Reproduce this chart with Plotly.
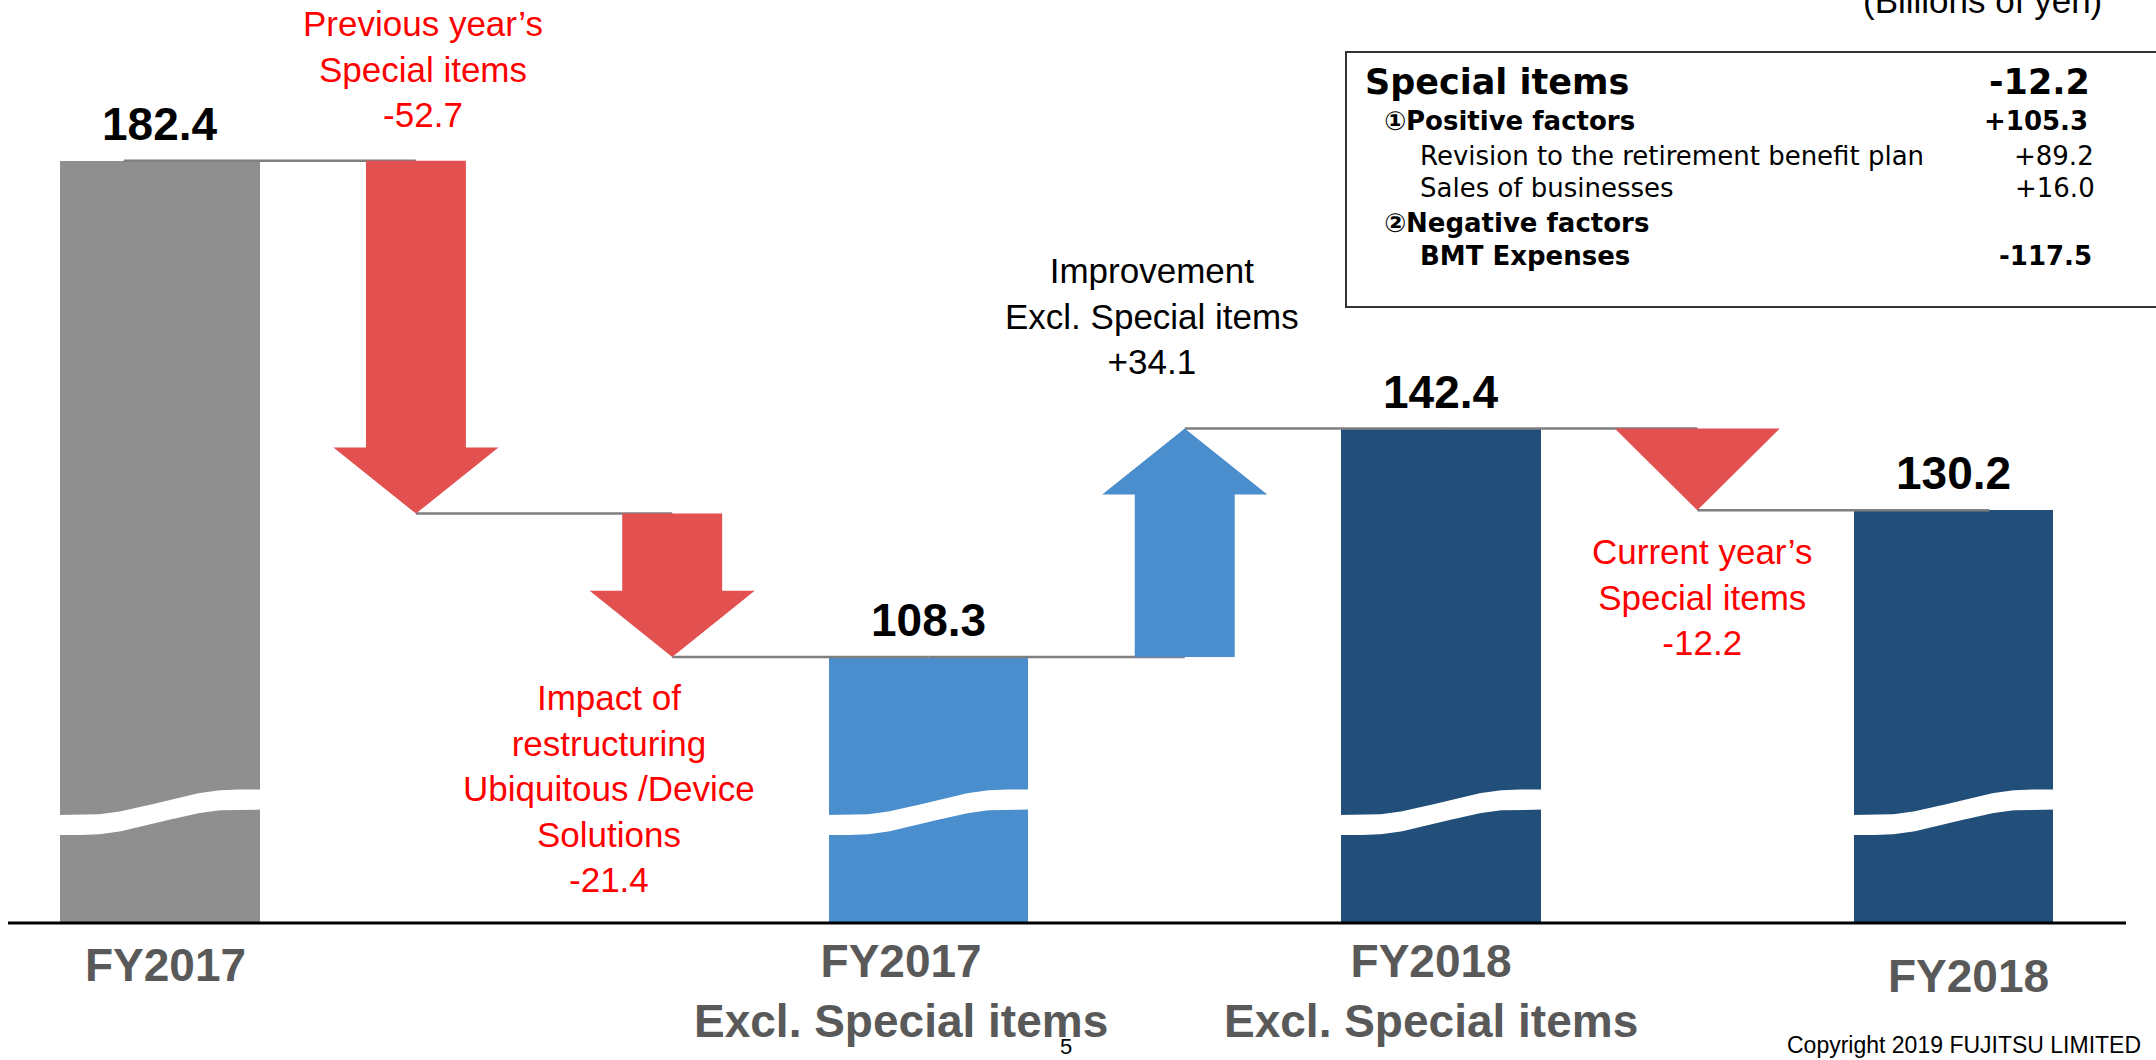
import numpy as np
import plotly.graph_objects as go

# ---------------- data ----------------
step_names = [
    "FY2017",
    "Previous year's Special items",
    "Impact of restructuring Ubiquitous /Device Solutions",
    "FY2017 Excl. Special items",
    "Improvement Excl. Special items",
    "FY2018 Excl. Special items",
    "Current year's Special items",
    "FY2018",
]
step_kinds = ["total", "delta", "delta", "total", "delta", "total", "delta", "total"]
step_values = [182.4, -52.7, -21.4, 108.3, 34.1, 142.4, -12.2, 130.2]

category_labels = [
    "FY2017",
    "FY2017<br>Excl. Special items",
    "FY2018<br>Excl. Special items",
    "FY2018",
]
delta_labels = [
    "Previous year’s<br>Special items<br>-52.7",
    "Impact of<br>restructuring<br>Ubiquitous /Device<br>Solutions<br>-21.4",
    "Improvement<br>Excl. Special items<br>+34.1",
    "Current year’s<br>Special items<br>-12.2",
]
special_item_names = [
    "Special items",
    "①Positive factors",
    "Revision to the retirement benefit plan",
    "Sales of businesses",
    "②Negative factors",
    "BMT Expenses",
]
special_item_values = ["-12.2", "+105.3", "+89.2", "+16.0", "", "-117.5"]

unit_label = "(Billions of yen)"
copyright_text = "Copyright 2019 FUJITSU LIMITED"
page_number = "5"

# ---------------- layout / style constants ----------------
W, H = 2156, 1060
PLOT_BOTTOM = 923
Y_RANGE = [68.56, 206.4]
X_RANGE = [-0.623, 7.790]
BAR_W = 0.78
SHAFT_W = 0.39
HEAD_W = 0.644
HEAD_H = 9.86
WAVE_LEFT, WAVE_RIGHT, WAVE_TH = 83.2, 87.0, 3.0

ARIAL = "Liberation Sans, Arial, sans-serif"
VERD = "DejaVu Sans, Verdana, sans-serif"
RED_TXT = "#FF0000"
AX_GRAY = "#595959"
bar_colors = ["#8F8F8F", "#4A8ECD", "#214F79", "#214F79"]
UP_COLOR = "#4A8ECD"
DOWN_COLOR = "#E35050"
CONNECTOR = "#7F7F7F"


def pxx(x):
    return x / W


def pyy(y):
    return (PLOT_BOTTOM - y) / PLOT_BOTTOM


# running levels
levels, starts = [], []
lvl = 0.0
for k, v in zip(step_kinds, step_values):
    starts.append(0.0 if k == "total" else lvl)
    lvl = v if k == "total" else lvl + v
    levels.append(round(lvl, 1))

fig = go.Figure()

# total bars
tot_idx = [i for i, k in enumerate(step_kinds) if k == "total"]
fig.add_trace(go.Bar(
    x=tot_idx, y=[step_values[i] for i in tot_idx], width=BAR_W,
    marker=dict(color=bar_colors, line=dict(width=0)),
    hoverinfo="skip", showlegend=False,
))

# axis-break waves on bars
t = np.linspace(0, 1, 80)
tt = np.clip((t - 0.12) / 0.76, 0, 1)
s = (1 - np.cos(np.pi * tt)) / 2
for i in tot_idx:
    xs = i - BAR_W / 2 - 0.01 + t * (BAR_W + 0.02)
    yc = WAVE_LEFT + (WAVE_RIGHT - WAVE_LEFT) * s
    px_ = np.concatenate([xs, xs[::-1]])
    py_ = np.concatenate([yc + WAVE_TH / 2, (yc - WAVE_TH / 2)[::-1]])
    fig.add_trace(go.Scatter(x=px_, y=py_, mode="lines", fill="toself",
                             fillcolor="white", line=dict(width=0),
                             hoverinfo="skip", showlegend=False))

# connectors
cx, cy = [], []
n = len(step_values)
for i in range(n - 1):
    x0 = i - (0.14 if i == 0 else 0)
    x1 = i + 1 + (0.14 if i + 1 == n - 1 else 0)
    cx += [x0, x1, None]
    cy += [levels[i], levels[i], None]
fig.add_trace(go.Scatter(x=cx, y=cy, mode="lines",
                         line=dict(color=CONNECTOR, width=2.5),
                         hoverinfo="skip", showlegend=False))

# arrows
for i, k in enumerate(step_kinds):
    if k != "delta":
        continue
    s0, e0 = starts[i], levels[i]
    d = 1 if e0 > s0 else -1
    span = abs(e0 - s0)
    hh = span if span < 1.5 * HEAD_H else HEAD_H
    base = e0 - d * hh
    if hh >= span:
        xs = [i - HEAD_W / 2, i + HEAD_W / 2, i, i - HEAD_W / 2]
        ys = [s0, s0, e0, s0]
    else:
        xs = [i - SHAFT_W / 2, i + SHAFT_W / 2, i + SHAFT_W / 2, i + HEAD_W / 2,
              i, i - HEAD_W / 2, i - SHAFT_W / 2, i - SHAFT_W / 2]
        ys = [s0, s0, base, base, e0, base, base, s0]
    fig.add_trace(go.Scatter(x=xs, y=ys, mode="lines", fill="toself",
                             fillcolor=UP_COLOR if d > 0 else DOWN_COLOR,
                             line=dict(width=0), hoverinfo="skip", showlegend=False))

ann = []
# value labels above totals
for i in tot_idx:
    ann.append(dict(x=i, y=step_values[i], xref="x", yref="y", yshift=37,
                    text=f"{step_values[i]:.1f}", showarrow=False, yanchor="middle",
                    font=dict(family=ARIAL, size=46, color="black", weight="bold")))

# delta labels
delta_pos = [(423, 69), (609, 788), (1152, 316), (1702, 597)]
delta_col = [RED_TXT, RED_TXT, "black", RED_TXT]
for txt, (xp, yp), col in zip(delta_labels, delta_pos, delta_col):
    ann.append(dict(x=pxx(xp), y=pyy(yp), xref="paper", yref="paper", text=txt,
                    showarrow=False, xanchor="center", yanchor="middle", align="center",
                    font=dict(family=ARIAL, size=35, color=col)))

# category labels
cat_pos = [(165, 965), (901, 991), (1431, 991), (1968, 976)]
for txt, (xp, yp) in zip(category_labels, cat_pos):
    ann.append(dict(x=pxx(xp), y=pyy(yp), xref="paper", yref="paper", text=txt,
                    showarrow=False, xanchor="center", yanchor="middle", align="center",
                    font=dict(family=ARIAL, size=46, color=AX_GRAY, weight="bold")))

# special items box
row_base = [94, 130, 165, 197, 232, 265]
row_x = [1363, 1382, 1418, 1418, 1382, 1418]
row_bold = [True, True, False, False, True, True]
row_size = [35, 26, 26, 26, 26, 26]
val_right = [2092, 2090, 2096, 2097, 2097, 2094]
for name, val, b, xl, xr, bold, fs in zip(special_item_names, special_item_values, row_base,
                                          row_x, val_right, row_bold, row_size):
    yc = b - 0.346 * fs
    f = dict(family=VERD, size=fs, color="black", weight="bold" if bold else "normal")
    ann.append(dict(x=pxx(xl), y=pyy(yc), xref="paper", yref="paper", text=name,
                    showarrow=False, xanchor="left", yanchor="middle", font=f))
    if val:
        ann.append(dict(x=pxx(xr), y=pyy(yc), xref="paper", yref="paper", text=val,
                        showarrow=False, xanchor="right", yanchor="middle", font=f))

# misc text
ann.append(dict(x=pxx(2104), y=pyy(0), xref="paper", yref="paper", text=unit_label,
                showarrow=False, xanchor="right", yanchor="middle",
                font=dict(family=ARIAL, size=35, color="black")))
ann.append(dict(x=pxx(2143), y=pyy(1045), xref="paper", yref="paper", text=copyright_text,
                showarrow=False, xanchor="right", yanchor="middle",
                font=dict(family=ARIAL, size=23, color="black")))
ann.append(dict(x=pxx(1066), y=pyy(1046), xref="paper", yref="paper", text=page_number,
                showarrow=False, xanchor="center", yanchor="middle",
                font=dict(family=ARIAL, size=22, color="black")))

shapes = [
    dict(type="rect", xref="paper", yref="paper", x0=pxx(1346), x1=pxx(2175),
         y0=pyy(307), y1=pyy(52), line=dict(color="#333333", width=2), layer="above"),
    dict(type="line", xref="paper", yref="paper", x0=pxx(8), x1=pxx(2126),
         y0=0, y1=0, line=dict(color="black", width=3), layer="above"),
]

fig.update_layout(
    width=W, height=H, autosize=False,
    margin=dict(l=0, r=0, t=0, b=H - PLOT_BOTTOM, pad=0),
    paper_bgcolor="white", plot_bgcolor="white",
    xaxis=dict(range=X_RANGE, visible=False, fixedrange=True),
    yaxis=dict(range=Y_RANGE, visible=False, fixedrange=True),
    annotations=ann, shapes=shapes, showlegend=False, bargap=0,
)

fig.write_html("out.html", config={"displayModeBar": False},
               post_script="document.body.style.margin='0px';document.body.style.overflow='hidden';")
